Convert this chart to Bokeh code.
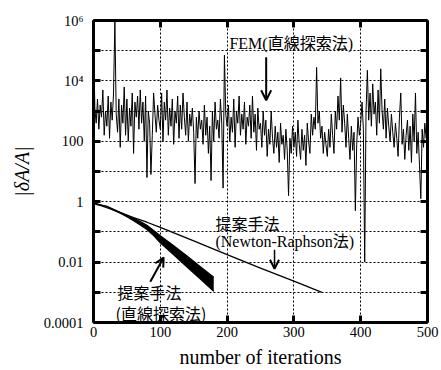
import numpy as np
from bokeh.plotting import figure
from bokeh.models import (LogAxis, LinearAxis, FixedTicker, Label, Arrow,
                          OpenHead, Range1d)
from bokeh.core.properties import value
from bokeh.embed import file_html
from bokeh.resources import INLINE

# ---------------- data ----------------
# FEM (line search): |dA/A| as log10 exponent, every 2 iterations
fem_iter = list(range(0, 501, 2))
fem_log10 = [
    5.5, 3.1, 2.6, 3.4, 2.4, 3.2, 2.8, 3.7, 2.2, 3.0, 2.5, 3.5, 2.1, 3.3, 2.7,
    3.6, 6.0, 2.9, 2.3, 3.4, 1.8, 3.2, 2.6, 3.8, 2.2,
    3.4, 2.0, 3.1, 2.5, 3.6, 1.6, 3.3, 2.8, 3.5, 2.4, 3.7, 2.6, 3.3, 2.0, 3.5,
    0.8, 3.0, 2.6, 0.9, 2.2, 3.6, 2.9, 2.3, 3.2, 2.7,
    2.4, 3.6, 2.0, 3.3, 2.7, 3.7, 2.2, 3.1, 2.5, 3.4, 1.9, 3.0, 2.6, 3.5, 2.1,
    3.2, 2.4, 3.6, 2.8, 2.2, 3.3, 2.0, 2.9, 2.5, 3.1,
    2.3, 0.6, 2.8, 2.1, 3.0, 2.4, 2.7, 1.9, 3.2, 2.2, 2.8, 1.6, 2.5, 0.7, 3.0,
    2.0, 3.3, 2.4, 2.7, 2.1, 3.4, 2.6, 0.45, 4.85, 2.9,
    2.5, 3.2, 2.0, 2.8, 2.3, 3.4, 1.8, 3.0, 2.6, 3.5, 2.2, 2.9, 2.4, 3.3, 1.9,
    2.8, 2.5, 3.2, 2.1, 3.5, 2.3, 2.9, 1.7, 3.1, 2.4,
    2.6, 1.8, 3.0, 2.2, 2.7, 1.5, 2.4, 1.9, 3.0, 2.1, 1.6, 2.5, 1.8, 2.3, 1.3,
    2.6, 1.9, 2.2, 1.4, 2.4, 1.7, 0.2, 2.1, 1.6, 2.5,
    1.8, 2.3, 1.5, 2.7, 1.9, 1.4, 2.4, 1.7, 2.2, 1.2, 2.6, 2.0, 1.6, 2.9, 2.2,
    2.8, 2.4, 4.45, 2.6, 3.0, 2.1, 2.5, 1.6, 2.3, 1.9,
    1.5, 2.4, 1.8, 2.9, 2.2, 1.6, 3.0, 2.4, 3.5, 2.7, 4.1, 2.3, 3.2, 2.6, 1.8,
    2.9, 2.1, 1.4, 2.5, 1.7, 2.3, -0.3, 1.9, 2.8, 2.2,
    2.6, 3.3, 2.4, -2.0, 3.0, 4.35, 2.7, 3.6, 2.5, 3.9, 2.9, 3.3, 2.2, 3.7, 2.6,
    4.4, 3.0, 2.4, 3.4, 2.1, 3.1, 2.5, 2.0, 2.9, 2.3,
    1.8, 2.6, 2.1, 1.5, 2.8, 3.6, 1.9, 2.4, 1.4, 2.2, 2.7, 1.7, 2.5, 1.3, 2.9,
    2.0, 3.6, 1.6, 2.3, 1.2, 0.1, 2.4, 1.8, 2.6, 2.1, 2.5,
]

# proposed method (Newton-Raphson)
nr_iter = [0, 5, 10, 20, 40, 60, 80, 100, 150, 200, 250, 300, 342]
nr_log10 = [-0.05, -0.1, -0.12, -0.2, -0.36, -0.53, -0.68, -0.85, -1.3,
            -1.75, -2.2, -2.63, -3.0]

# proposed method (line search): band of runs
ls_iter = [0, 10, 20, 30, 40, 50, 60, 70, 80, 90, 100, 120, 140, 160, 180]
ls_upper_log10 = [-0.05, -0.1, -0.15, -0.25, -0.35, -0.45, -0.55, -0.66,
                  -0.78, -0.95, -1.13, -1.46, -1.8, -2.15, -2.5]
ls_lower_log10 = [-0.05, -0.1, -0.16, -0.27, -0.38, -0.5, -0.63, -0.77,
                  -0.92, -1.12, -1.36, -1.76, -2.16, -2.56, -2.97]

x_ticks = [0, 100, 200, 300, 400, 500]
y_ticks = [1e-4, 1e-3, 1e-2, 1e-1, 1.0, 10.0, 100.0, 1e3, 1e4, 1e5, 1e6]
y_tick_labels = ["0.0001", "", "0.01", "", "1", "", "100", "", "10⁴", "", "10⁶"]

x_label = "number of iterations"
y_label = "|δA/A|"

# ---------------- styles ----------------
SERIF = "Liberation Serif"
MIXED = "Liberation Serif, Noto Sans CJK JP"
CJK = "Noto Sans CJK JP"

p = figure(width=441, height=370,
           x_range=Range1d(0, 500), y_range=Range1d(1e-4, 1e6),
           y_axis_type="log", output_backend="svg", toolbar_location=None,
           min_border_left=93, min_border_right=14, min_border_top=20,
           min_border_bottom=47)
p.outline_line_color = None
p.background_fill_color = "white"
p.border_fill_color = "white"


def style_axis(ax, show_labels):
    ax.axis_line_width = 3
    ax.axis_line_color = "black"
    ax.major_tick_line_width = 3
    ax.major_tick_line_color = "black"
    ax.major_tick_in = 7
    ax.major_tick_out = 0
    ax.minor_tick_line_color = None
    ax.major_label_text_font = SERIF
    ax.major_label_text_color = "black"
    ax.axis_label_text_color = "black"
    if show_labels:
        ax.major_label_text_font_size = "14.5px"
    else:
        ax.major_label_text_font_size = "0px"
        ax.major_label_standoff = 0


# left (log) axis
yax = p.yaxis[0]
yax.ticker = FixedTicker(ticks=y_ticks)
yax.major_label_overrides = {t: s for t, s in zip(y_ticks, y_tick_labels)}
style_axis(yax, True)
yax.major_label_standoff = 10
yax.axis_label = y_label
yax.axis_label_text_font = SERIF
yax.axis_label_text_font_style = "italic"
yax.axis_label_text_font_size = "20px"
yax.axis_label_standoff = 8

# bottom axis
xax = p.xaxis[0]
xax.ticker = FixedTicker(ticks=x_ticks)
style_axis(xax, True)
xax.major_label_standoff = 4
xax.axis_label = x_label
xax.axis_label_text_font = SERIF
xax.axis_label_text_font_style = "normal"
xax.axis_label_text_font_size = "20px"
xax.axis_label_standoff = 6

# mirrored axes
rax = LogAxis(ticker=FixedTicker(ticks=y_ticks))
style_axis(rax, False)
rax.major_label_overrides = {t: "" for t in y_ticks}
p.add_layout(rax, "right")
tax = LinearAxis(ticker=FixedTicker(ticks=x_ticks))
style_axis(tax, False)
tax.major_label_overrides = {t: "" for t in x_ticks}
p.add_layout(tax, "above")

# grids
for g in (p.xgrid[0], p.ygrid[0]):
    g.grid_line_color = "black"
    g.grid_line_dash = "2 2"
    g.grid_line_width = 1
p.xgrid[0].ticker = FixedTicker(ticks=x_ticks)
p.ygrid[0].ticker = FixedTicker(ticks=y_ticks)

# ---------------- series ----------------
fem_y = [10 ** v for v in fem_log10]
p.line(fem_iter, fem_y, line_color="black", line_width=1)

ls_up = [10 ** v for v in ls_upper_log10]
ls_lo = [10 ** v for v in ls_lower_log10]
p.varea(x=ls_iter, y1=ls_lo, y2=ls_up, fill_color="black")
p.line(ls_iter, ls_up, line_color="black", line_width=1.2)
p.line(ls_iter, ls_lo, line_color="black", line_width=1.2)

nr_y = [10 ** v for v in nr_log10]
p.line(nr_iter, nr_y, line_color="black", line_width=1.3)

# ---------------- annotations ----------------
def add_label(x, ylog, text, font):
    p.add_layout(Label(x=x, y=10 ** ylog, text=text, text_font=font,
                       text_font_size="16px", text_color="black",
                       text_align="left", text_baseline="middle"))


add_label(203.5, 5.24, "FEM(直線探索法)", MIXED)
add_label(182.5, -0.70, "提案手法", CJK)
add_label(182.5, -1.33, "(Newton-Raphson法)", MIXED)
add_label(36, -2.98, "提案手法", CJK)
add_label(33, -3.67, "(直線探索法)", CJK)

p.add_layout(Arrow(end=OpenHead(size=10, line_width=2, line_color="black"),
                   x_start=258.5, y_start=10 ** 4.78,
                   x_end=258.5, y_end=10 ** 3.36,
                   line_width=2, line_color="black"))
p.add_layout(Arrow(end=OpenHead(size=9, line_width=2, line_color="black"),
                   x_start=271, y_start=10 ** -1.59,
                   x_end=271, y_end=10 ** -2.22,
                   line_width=1.5, line_color="black"))
p.add_layout(Arrow(end=OpenHead(size=9, line_width=2, line_color="black"),
                   x_start=85, y_start=10 ** -2.65,
                   x_end=105, y_end=10 ** -1.85,
                   line_width=2, line_color="black"))

open("out.html", "w").write(file_html(p, INLINE))
